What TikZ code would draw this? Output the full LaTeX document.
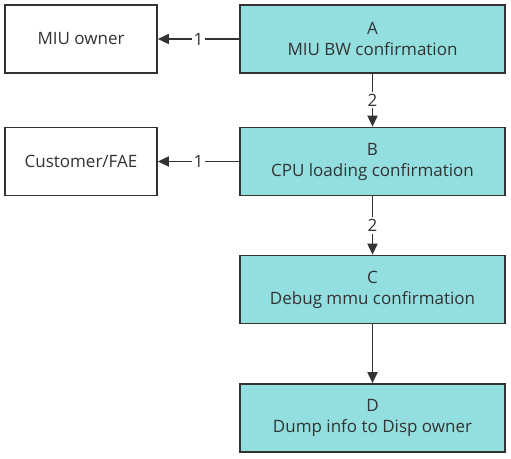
\documentclass[tikz,border=0pt]{standalone}
\usepackage{fontspec}
\setmainfont{Open Sans}
\usetikzlibrary{arrows.meta}
\definecolor{boxfill}{HTML}{93DFDF}
\definecolor{ink}{HTML}{333333}
\begin{document}
\begin{tikzpicture}[x=1pt,y=-1pt,
  box/.style={draw=ink,line width=1.7pt,minimum width=#1,inner sep=0pt,align=center,font=\fontsize{17}{21}\selectfont,text=ink},
  plainbox/.style={box=152pt,minimum height=68pt,fill=white},
  stepbox/.style={box=265pt,minimum height=68pt,fill=boxfill},
  conn/.style={draw=ink,line width=1.8pt,-{Triangle[length=11pt,width=10pt]}},
  lbl/.style={fill=white,inner sep=2pt,font=\fontsize{17}{19}\selectfont,text=ink}]
\useasboundingbox (0,0) rectangle (511,458);
\node[plainbox] (miu) at (81,39) {MIU owner};
\node[stepbox] (a) at (372.5,39) {A\\MIU BW confirmation};
\node[plainbox] (cust) at (81,161.5) {Customer/FAE};
\node[stepbox] (b) at (372.5,161.5) {B\\CPU loading confirmation};
\node[stepbox] (c) at (372.5,289.5) {C\\Debug mmu confirmation};
\node[stepbox] (d) at (372.5,418) {D\\Dump info to Disp owner};
\draw[conn] (a) -- node[lbl] {1} (miu);
\draw[conn] (b) -- node[lbl] {1} (cust);
\draw[conn] (a) -- node[lbl] {2} (b);
\draw[conn] (b) -- node[lbl] {2} (c);
\draw[conn] (c) -- (d);
\end{tikzpicture}
\end{document}
